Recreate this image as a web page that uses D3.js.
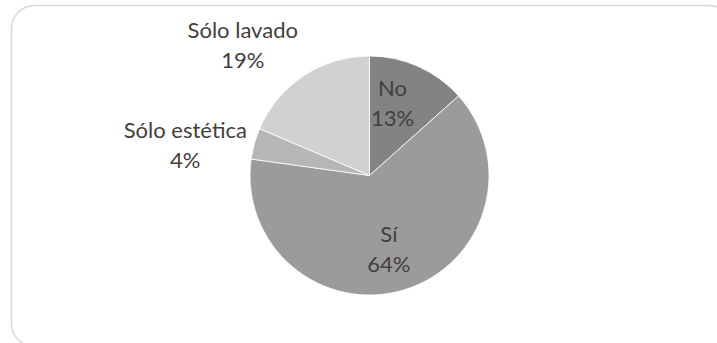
<!DOCTYPE html>
<html>
<head>
<meta charset="utf-8">
<script src="https://cdn.jsdelivr.net/npm/d3@7"></script>
<style>
  html, body { margin: 0; padding: 0; background: #fff; }
  svg { display: block; }
</style>
</head>
<body>
<div id="chart"></div>
<script>
// slices, clockwise from 12 o'clock
const categories = ["No", "Sí", "Sólo estética", "Sólo lavado"];
const values = [13.4, 63.8, 4.2, 18.6];
const colors = ["#838383", "#9b9b9b", "#b6b6b6", "#d1d1d1"];

const width = 717;
const height = 343;
const cx = 369.5, cy = 175.5, radius = 119.5;

// label placement: radius along the slice's mid angle, plus a small nudge
const labelRadius = [76, 77, 160, 150];
const labelNudge = [[-8, -3], [-3, 0], [-30, 12], [-44, -5]];

const data = categories.map((c, i) => ({ name: c, value: values[i], color: colors[i] }));
const total = d3.sum(values);

const svg = d3.select("#chart")
    .append("svg")
    .attr("width", width)
    .attr("height", height);

svg.append("rect")
    .attr("x", 11.5)
    .attr("y", 5.5)
    .attr("width", 720)
    .attr("height", 341)
    .attr("rx", 23)
    .attr("fill", "#fff")
    .attr("stroke", "#d9d9d9")
    .attr("stroke-width", 1.5);

const pie = d3.pie()
    .sort(null)
    .value(d => d.value);

const arc = d3.arc()
    .innerRadius(0)
    .outerRadius(radius);

const g = svg.append("g")
    .attr("transform", `translate(${cx},${cy})`);

const arcs = pie(data);

g.selectAll(".slice")
    .data(arcs)
    .enter()
    .append("path")
    .attr("class", "slice")
    .attr("d", arc)
    .attr("fill", d => d.data.color)
    .attr("stroke", "#ffffff")
    .attr("stroke-width", 0.8);

const labels = g.selectAll(".label")
    .data(arcs)
    .enter()
    .append("text")
    .attr("class", "label")
    .attr("transform", (d, i) => {
        const [x, y] = d3.arc().innerRadius(labelRadius[i]).outerRadius(labelRadius[i]).centroid(d);
        return `translate(${x + labelNudge[i][0]},${y + labelNudge[i][1]})`;
    })
    .attr("text-anchor", "middle")
    .style("font-family", "Lato, 'Open Sans', sans-serif")
    .style("font-size", "22px")
    .style("fill", "#404040");

labels.append("tspan")
    .attr("x", 0)
    .attr("y", -7)
    .text(d => d.data.name);

labels.append("tspan")
    .attr("x", 0)
    .attr("y", 23)
    .text(d => Math.round(d.data.value / total * 100) + "%");
</script>
</body>
</html>
